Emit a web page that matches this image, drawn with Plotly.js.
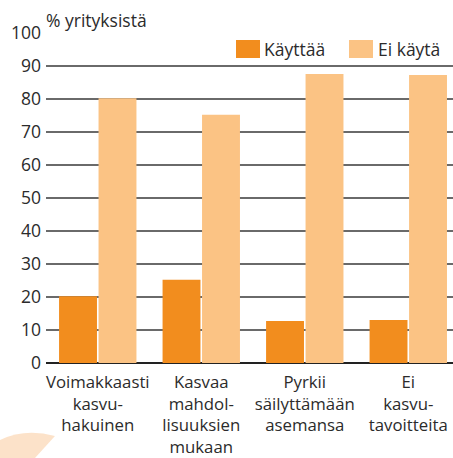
<!DOCTYPE html>
<html>
<head>
<meta charset="utf-8">
<script src="https://cdn.plot.ly/plotly-3.0.1.min.js"></script>
<style>html,body{margin:0;padding:0;background:#fff;}#chart{width:453px;height:458px;}</style>
</head>
<body>
<div id="chart"></div>
<script>
var categories = ["Voimakkaasti<br>kasvu-<br>hakuinen", "Kasvaa<br>mahdol-<br>lisuuksien<br>mukaan", "Pyrkii<br>säilyttämään<br>asemansa", "Ei<br>kasvu-<br>tavoitteita"];
var seriesNames = ["Käyttää", "Ei käytä"];
var kayttaa = [20.2, 25.2, 12.7, 13.0];
var eiKayta = [80.2, 75.2, 87.6, 87.3];
var yTicks = [0, 10, 20, 30, 40, 50, 60, 70, 80, 90, 100];
var yTitle = "% yrityksistä";
var colors = ["#F28D1E", "#FBC384"];

var FONT = "Open Sans, Noto Sans, sans-serif";
var TXT = "#2b2b2b";

var traces = [
  {type: "bar", x: categories, y: kayttaa, name: seriesNames[0], marker: {color: colors[0]}, showlegend: false, hoverinfo: "skip"},
  {type: "bar", x: categories, y: eiKayta, name: seriesNames[1], marker: {color: colors[1]}, showlegend: false, hoverinfo: "skip"}
];

function px2x(p) { return (p - 46) / 407; }
function py2y(p) { return (363 - p) / 330; }

var layout = {
  width: 453, height: 458,
  margin: {l: 46, r: 0, t: 33, b: 95, pad: 0},
  paper_bgcolor: "#fff", plot_bgcolor: "#fff",
  barmode: "group", bargap: 0.237, bargroupgap: 0.04,
  font: {family: FONT, size: 16.5, color: TXT},
  xaxis: {
    type: "category", range: [-0.5, 3.432], showgrid: false, zeroline: false,
    showline: false, ticks: "", ticklabelstandoff: 7,
    tickfont: {family: FONT, size: 16.8, color: TXT}, fixedrange: true
  },
  yaxis: {
    range: [0, 100], tickvals: yTicks, showgrid: true, gridcolor: "#6a6a6a", gridwidth: 1.3,
    zeroline: true, zerolinecolor: "#222", zerolinewidth: 2.2, showline: false, ticks: "",
    ticklabelstandoff: 4, tickfont: {family: FONT, size: 17.5, color: TXT}, fixedrange: true
  },
  shapes: [
    {type: "rect", xref: "paper", yref: "paper", x0: px2x(236), x1: px2x(260), y0: py2y(58), y1: py2y(40), fillcolor: colors[0], line: {width: 0}},
    {type: "rect", xref: "paper", yref: "paper", x0: px2x(349), x1: px2x(373), y0: py2y(58), y1: py2y(40), fillcolor: colors[1], line: {width: 0}},
    {type: "path", xref: "paper", yref: "paper", layer: "below",
     path: "M " + px2x(0) + "," + py2y(458) + " L " + px2x(0) + "," + py2y(440) + " Q " + px2x(25) + "," + py2y(428) + " " + px2x(55) + "," + py2y(436) + " L " + px2x(35) + "," + py2y(458) + " Z",
     fillcolor: "rgba(244,150,60,0.28)", line: {width: 0}}
  ],
  annotations: [
    {xref: "paper", yref: "paper", x: px2x(44), y: py2y(20), xanchor: "left", yanchor: "middle", text: yTitle, showarrow: false, font: {family: FONT, size: 17.5, color: TXT}},
    {xref: "paper", yref: "paper", x: px2x(262), y: py2y(49), xanchor: "left", yanchor: "middle", text: seriesNames[0], showarrow: false, font: {family: FONT, size: 17.5, color: TXT}},
    {xref: "paper", yref: "paper", x: px2x(376), y: py2y(49), xanchor: "left", yanchor: "middle", text: seriesNames[1], showarrow: false, font: {family: FONT, size: 17.5, color: TXT}}
  ]
};

Plotly.newPlot("chart", traces, layout, {staticPlot: true, displayModeBar: false});
</script>
</body>
</html>
